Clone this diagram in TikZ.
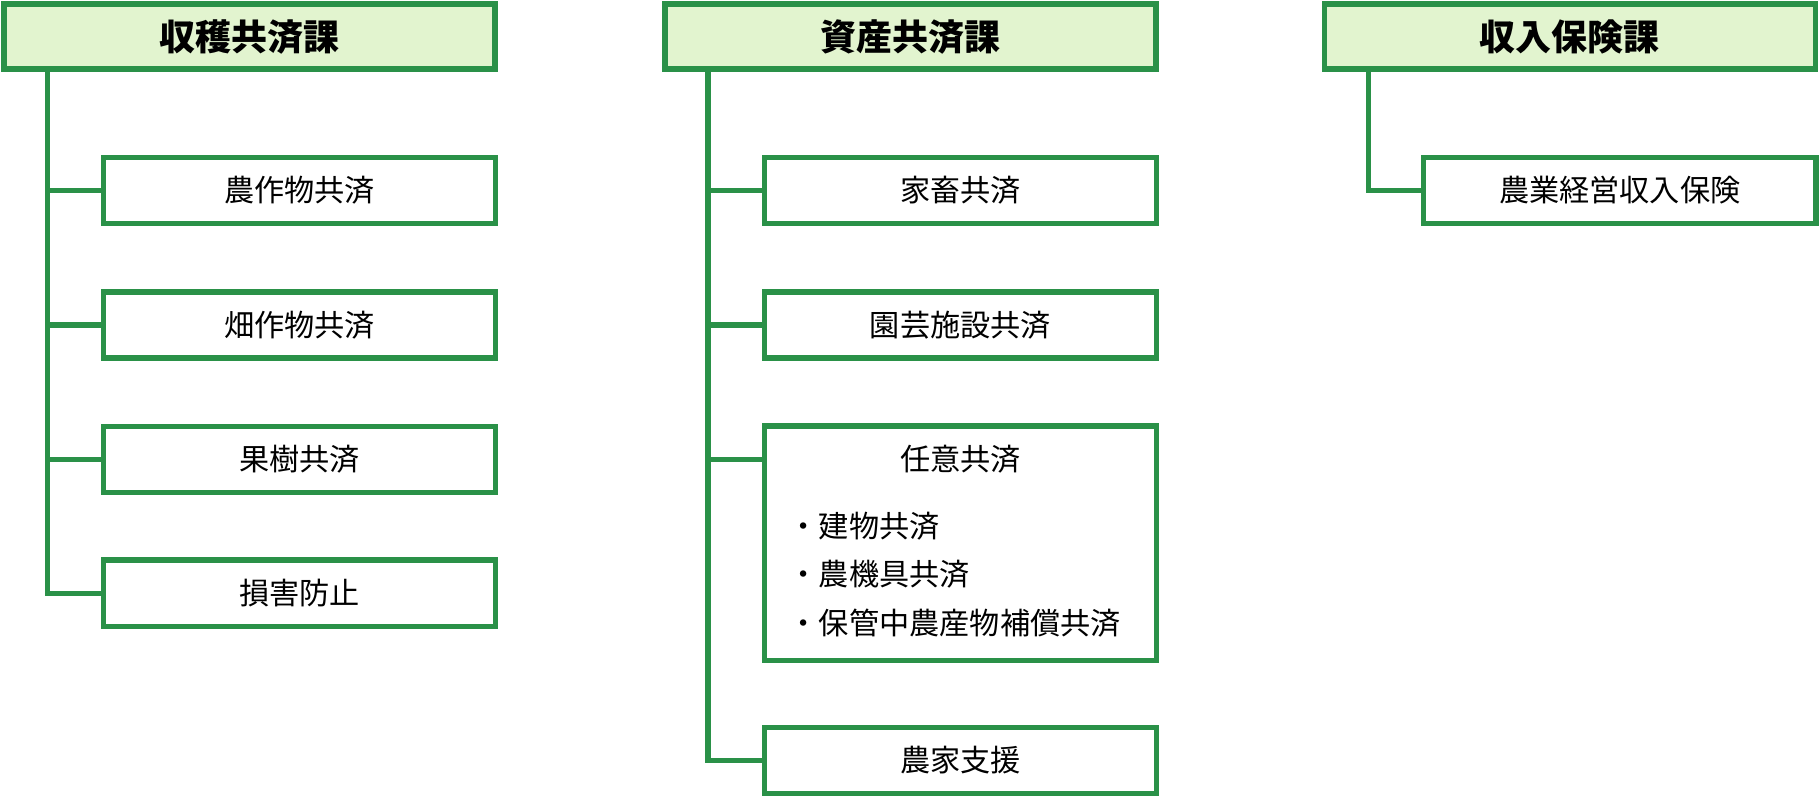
\documentclass[tikz,border=0pt]{standalone}
\usepackage{fontspec}
\newfontfamily\cjk{Noto Sans CJK JP}
\definecolor{gr}{HTML}{2A9148}
\definecolor{lg}{HTML}{E2F4CF}
\begin{document}
\begin{tikzpicture}[x=1pt,y=-1pt,
  hdr/.style={draw=gr,line width=4.5pt,fill=lg,minimum width=423pt,minimum height=56pt,inner sep=0pt,font=\cjk\bfseries\fontsize{31}{36}\selectfont},
  bx/.style={draw=gr,line width=4.5pt,fill=white,minimum width=338pt,minimum height=57pt,inner sep=0pt,font=\cjk\fontsize{26}{30}\selectfont},
  tx/.style={font=\cjk\fontsize{26}{30}\selectfont},
  ln/.style={draw=gr,line width=4.5pt}]
\useasboundingbox (0,0) rectangle (1568,688);
\node[hdr] (h1) at (215,31.5) {収穫共済課};
\node[hdr] (h2) at (784.5,31.5) {資産共済課};
\node[hdr] (h3) at (1352.5,31.5) {収入保険課};
\node[bx] (a1) at (258,164) {農作物共済};
\node[bx] (a2) at (258,280) {畑作物共済};
\node[bx] (a3) at (258,396) {果樹共済};
\node[bx] (a4) at (258,511) {損害防止};
\node[bx] (b1) at (827.5,164) {家畜共済};
\node[bx] (b2) at (827.5,280) {園芸施設共済};
\node[bx,minimum height=202pt] (b3) at (827.5,468) {};
\node[tx] (b3t) at (827.5,396) {任意共済};
\node[tx,anchor=west] (b3a) at (676,453) {・建物共済};
\node[tx,anchor=west] (b3b) at (676,495) {・農機具共済};
\node[tx,anchor=west] (b3c) at (676,537) {・保管中農産物補償共済};
\node[bx] (b4) at (827.5,655) {農家支援};
\node[bx] (c1) at (1395.5,164) {農業経営収入保険};
\coordinate (t1) at (41,61);
\coordinate (t2) at (610,61);
\coordinate (t3) at (1179,61);
\draw[ln] (t1) |- (a4.west);
\foreach \n in {a1,a2,a3} \draw[ln] (\n.west -| t1) -- (\n.west);
\draw[ln] (t2) |- (b4.west);
\draw[ln] (b1.west -| t2) -- (b1.west);
\draw[ln] (b2.west -| t2) -- (b2.west);
\draw[ln] (b3t -| t2) -- (b3t -| b3.west);
\draw[ln] (t3) |- (c1.west);
\end{tikzpicture}
\end{document}
